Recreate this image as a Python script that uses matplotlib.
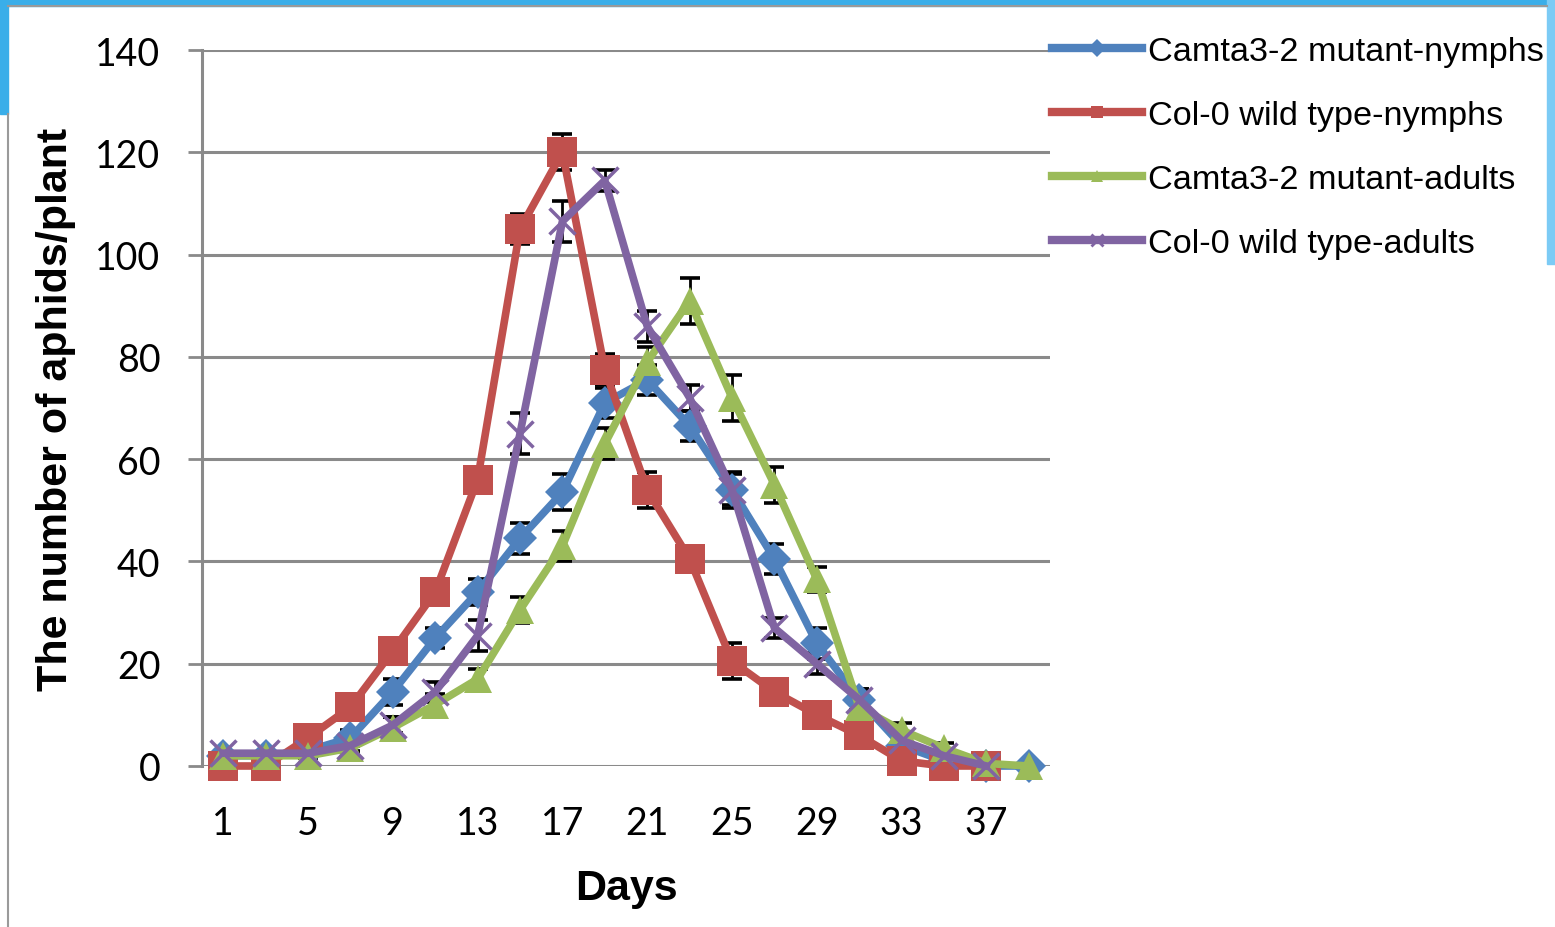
import numpy as np
import matplotlib
matplotlib.use("Agg")
import matplotlib.pyplot as plt
from matplotlib.patches import Rectangle
from matplotlib.lines import Line2D

# Sampling days (categories) and the tick labels shown on the axis.
days = [1, 3, 5, 7, 9, 11, 13, 15, 17, 19, 21, 23, 25, 27, 29, 31, 33, 35, 37, 39]
day_labels = ["1", "", "5", "", "9", "", "13", "", "17", "", "21", "", "25", "", "29", "", "33", "", "37", ""]

# Mean aphids per plant.
camta_nymphs = [2, 2, 3, 5.5, 14.5, 25, 34, 44.5, 53.5, 71, 75.5, 66.5, 54, 40.5, 24, 13, 4, 1, 0, 0]
col_nymphs = [0, 0, 5.5, 11.5, 22.5, 34, 56, 105, 120, 77.5, 54, 40.5, 20.5, 14.5, 10, 6, 1, 0, 0, np.nan]
camta_adults = [2, 2, 2, 3.5, 7.5, 12, 17, 30.5, 43, 63, 79, 91, 72, 55, 36.5, 11.5, 7, 3.5, 0.5, 0]
col_adults = [2.5, 2.5, 2.5, 4, 8, 14.5, 25.5, 65, 106.5, 114.5, 86, 72, 54, 27, 20, 13, 5, 2, 0, np.nan]

# Standard errors (estimated from cap positions).
camta_nymphs_err = [0.5, 0.5, 1, 1.5, 2.5, 2, 2.5, 3, 3.5, 3, 3, 3, 3.5, 3, 3, 2, 1.5, 1, 0.5, 0.5]
col_nymphs_err = [0.3, 0.3, 1, 1.5, 2, 2.5, 2.5, 3, 3.5, 3, 3.5, 2, 3.5, 2.5, 2.5, 2, 1, 0.5, 0.3, np.nan]
camta_adults_err = [0.5, 0.5, 0.5, 1, 2, 2, 2, 2.5, 3, 3, 3, 4.5, 4.5, 3.5, 2.5, 2, 1.5, 1, 0.5, 0.5]
col_adults_err = [0.5, 0.5, 0.5, 1, 1.5, 2, 3, 4, 4, 2, 3, 2.5, 3, 2, 2, 2, 1.5, 1, 0.5, np.nan]

series = [
    ("Camta3-2 mutant-nymphs", camta_nymphs, camta_nymphs_err, "#4F81BD", "D", 17),
    ("Col-0 wild type-nymphs", col_nymphs, col_nymphs_err, "#C0504D", "s", 21),
    ("Camta3-2 mutant-adults", camta_adults, camta_adults_err, "#9BBB59", "^", 20),
    ("Col-0 wild type-adults", col_adults, col_adults_err, "#8064A2", "x", 19),
]

W, H = 1555, 928
fig = plt.figure(figsize=(W / 100.0, H / 100.0), dpi=100, facecolor="white")

# Slide background bits (blue frame showing round the white box).
blue = "#3AAEE9"
fig.patches.append(Rectangle((0, 1 - 7.0 / H), 1, 7.0 / H, transform=fig.transFigure, color=blue, zorder=0))
fig.patches.append(Rectangle((0, 1 - 115.0 / H), 8.0 / W, 115.0 / H, transform=fig.transFigure, color=blue, zorder=0))
fig.patches.append(Rectangle((1 - 8.0 / W, 1 - 265.0 / H), 8.0 / W, 265.0 / H, transform=fig.transFigure,
                             color="#7CCBF5", zorder=0))
fig.lines.append(Line2D([8.0 / W, 8.0 / W], [0, 1 - 115.0 / H], transform=fig.transFigure, color="#9a9a9a", lw=1.5))
fig.lines.append(Line2D([8.0 / W, 1 - 8.0 / W], [1 - 7.0 / H, 1 - 7.0 / H], transform=fig.transFigure,
                        color="#9a9a9a", lw=1.5))

ax = fig.add_axes([202.0 / W, (H - 767.0) / H, 848.0 / W, 716.0 / H])
ax.set_facecolor("none")

x = np.arange(len(days))
grid_col = "#8a8a8a"

handles = []
for name, vals, err, col, mk, ms in series:
    ax.errorbar(x, vals, yerr=err, fmt="none", ecolor="black", elinewidth=2.0,
                capsize=7, capthick=2.6, zorder=2)
    if mk == "x":
        ln, = ax.plot(x, vals, color=col, lw=5.5, marker=mk, markersize=ms, markeredgewidth=2.5,
                      zorder=3, clip_on=False)
    else:
        ln, = ax.plot(x, vals, color=col, lw=5.5, marker=mk, markersize=ms, markeredgewidth=0,
                      zorder=3, clip_on=False)
    handles.append(Line2D([], [], color=col, lw=6, marker=mk, markersize=9,
                          markeredgewidth=2 if mk == "x" else 0))

ax.set_xlim(-0.5, len(days) - 0.5)
ax.set_ylim(0, 140)
ax.set_yticks(np.arange(0, 141, 20))
ax.set_xticks(x)
ax.set_xticklabels(day_labels)

ax.grid(axis="y", color=grid_col, lw=2.2)
ax.set_axisbelow(True)
for s in ["top", "right", "bottom"]:
    ax.spines[s].set_visible(False)
ax.spines["left"].set_color(grid_col)
ax.spines["left"].set_linewidth(2.2)

ax.tick_params(axis="y", length=10, width=2, color=grid_col, pad=20, labelsize=27)
ax.tick_params(axis="x", length=0, pad=28, labelsize=27)
for lab in ax.get_xticklabels() + ax.get_yticklabels():
    lab.set_fontfamily("Lato")

ax.set_xlabel("Days", fontsize=31, fontweight="bold", fontfamily="Liberation Sans")
ax.set_ylabel("The number of aphids/plant", fontsize=31, fontweight="bold", fontfamily="Liberation Sans")
ax.xaxis.set_label_coords(0.5, -0.142)
ax.yaxis.set_label_coords(-0.148, 0.5)

fig.legend(handles, [s[0] for s in series], loc="upper left",
           bbox_to_anchor=(1052.0 / W, 1 - 37.0 / H), bbox_transform=fig.transFigure,
           frameon=False, prop={"family": "Liberation Sans", "size": 24.7},
           handlelength=2.62, handletextpad=0.17, labelspacing=0.96, borderpad=0, borderaxespad=0)

fig.savefig("out.png", dpi=100, facecolor="white")
